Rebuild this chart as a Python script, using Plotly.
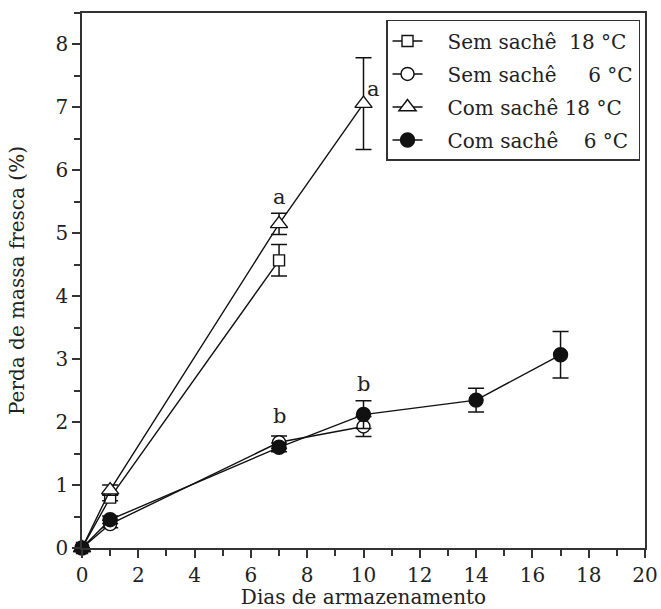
import plotly.graph_objects as go

# Data
days_s18 = [0, 1, 7]
s18 = [0.0, 0.80, 4.57]
s18_err = [0.0, 0.05, 0.25]

days_s6 = [0, 1, 7, 10]
s6 = [0.0, 0.38, 1.68, 1.93]
s6_err = [0.0, 0.06, 0.10, 0.16]

days_c18 = [0, 1, 7, 10]
c18 = [0.0, 0.92, 5.15, 7.06]
c18_err = [0.0, 0.08, 0.17, 0.73]

days_c6 = [0, 1, 7, 10, 14, 17]
c6 = [0.0, 0.45, 1.60, 2.12, 2.35, 3.07]
c6_err = [0.0, 0.06, 0.07, 0.22, 0.19, 0.37]

labels = ["\u2003Sem sachê\u00a0\u00a018\u00a0°C", "\u2003Sem sachê\u00a0\u00a0\u2007\u00a06\u00a0°C",
          "\u2003Com sachê\u00a018\u00a0°C", "\u2003Com sachê\u00a0\u2007\u00a06\u00a0°C"]

letters = ["a", "a", "b", "b"]
letter_x = [7, 10.35, 7, 10]
letter_y = [5.58, 7.30, 2.10, 2.61]

FONT = "DejaVu Serif"
INK = "#222222"

fig = go.Figure()

series = [
    (days_s18, s18, s18_err, "square", "white", 11, labels[0]),
    (days_s6, s6, s6_err, "circle", "white", 13, labels[1]),
    (days_c18, c18, c18_err, "triangle-up", "white", 15, labels[2]),
    (days_c6, c6, c6_err, "circle", "#111111", 14, labels[3]),
]
for i, (xs, ys, es, sym, fill, sz, name) in enumerate(series):
    fig.add_trace(go.Scatter(
        x=xs, y=ys, name=name, mode="lines+markers", cliponaxis=False,
        legendgroup=f"g{i}",
        line=dict(color="#111111", width=1.4),
        marker=dict(symbol=sym, size=sz, color=fill, line=dict(color="#111111", width=1.4)),
        error_y=dict(type="data", array=es, visible=True, color="#111111", thickness=1.5, width=8),
    ))

for t, x, y in zip(letters, letter_x, letter_y):
    fig.add_annotation(x=x, y=y, text=t, showarrow=False, font=dict(family=FONT, size=21, color=INK))

fig.update_layout(
    width=661, height=609,
    margin=dict(l=82, r=16, t=13, b=61, autoexpand=False),
    paper_bgcolor="white", plot_bgcolor="white",
    font=dict(family=FONT, size=20, color=INK),
    showlegend=True,
    legend=dict(x=0.54, y=0.987, xanchor="left", yanchor="top",
                bordercolor="#333333", borderwidth=1.5, bgcolor="white",
                font=dict(family=FONT, size=20), tracegroupgap=4, itemsizing="trace"),
    xaxis=dict(range=[0, 20], tickmode="linear", tick0=0, dtick=2, automargin=False,
               showline=True, linecolor="#333333", linewidth=1.5, mirror=True,
               ticks="outside", ticklen=8, tickwidth=1.5, tickcolor="#333333",
               minor=dict(ticks="outside", dtick=1, ticklen=6, tickwidth=1.5, tickcolor="#333333"),
               showgrid=False, zeroline=False,
               title=dict(text="Dias de armazenamento", font=dict(size=20), standoff=4),
               tickfont=dict(size=20)),
    yaxis=dict(range=[0, 8.5], tickmode="linear", tick0=0, dtick=1, automargin=False,
               showline=True, linecolor="#333333", linewidth=1.5, mirror=True,
               ticks="outside", ticklen=8, tickwidth=1.5, tickcolor="#333333",
               minor=dict(ticks="outside", dtick=0.5, ticklen=6, tickwidth=1.5, tickcolor="#333333"),
               showgrid=False, zeroline=False,
               title=dict(text="Perda de massa fresca (%)", font=dict(size=20), standoff=26),
               tickfont=dict(size=20)),
)

fig.write_html("out.html")
